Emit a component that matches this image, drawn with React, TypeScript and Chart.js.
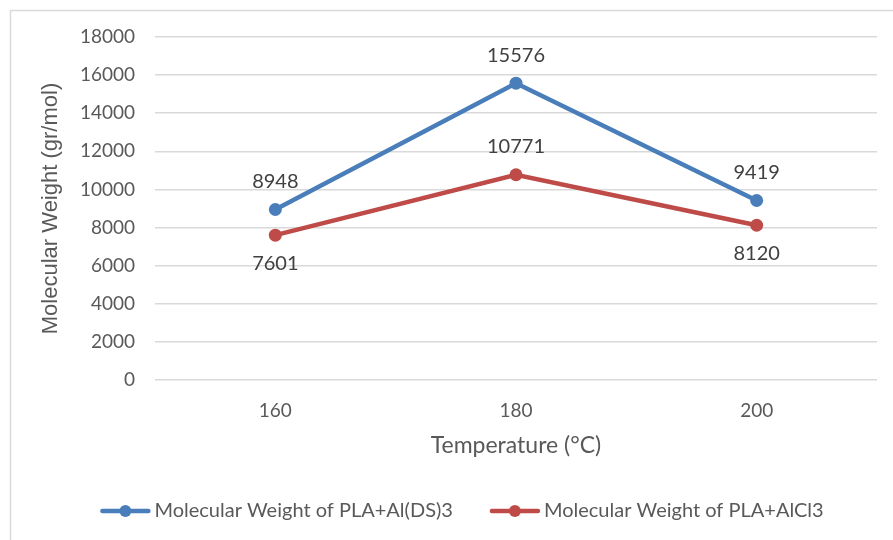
import React, { useEffect, useRef } from "react";
import { Chart, registerables } from "chart.js";

Chart.register(...registerables);

const categories = ["160", "180", "200"];
const seriesNames = ["Molecular Weight of PLA+Al(DS)3", "Molecular Weight of PLA+AlCl3"];
const alDs3Values = [8948, 15576, 9419];
const alCl3Values = [7601, 10771, 8120];
const colors = ["#4A7EBB", "#BE4B48"];
// label placement: 1 = above, -1 = below
const alDs3LabelPos = [1, 1, 1];
const alCl3LabelPos = [-1, 1, -1];
const yTicks = [0, 2000, 4000, 6000, 8000, 10000, 12000, 14000, 16000, 18000];

const FONT = "Lato, 'Open Sans', sans-serif";

const dataLabelPlugin = {
  id: "dataLabels",
  afterDatasetsDraw(chart: any) {
    const ctx = chart.ctx;
    const positions = [alDs3LabelPos, alCl3LabelPos];
    ctx.save();
    ctx.font = `20px ${FONT}`;
    ctx.fillStyle = "#404040";
    ctx.textAlign = "center";
    ctx.textBaseline = "middle";
    chart.data.datasets.forEach((ds: any, di: number) => {
      const meta = chart.getDatasetMeta(di);
      meta.data.forEach((pt: any, i: number) => {
        const dir = positions[di][i];
        ctx.fillText(String(ds.data[i]), pt.x, pt.y - dir * 28);
      });
    });
    ctx.restore();
  },
};

const legendPlugin = {
  id: "customLegend",
  afterDraw(chart: any) {
    const ctx = chart.ctx;
    ctx.save();
    ctx.font = `20px ${FONT}`;
    const lineW = 50;
    const gapText = 4;
    const gapItem = 37;
    const widths = seriesNames.map((n) => ctx.measureText(n).width);
    const total = widths.reduce((a, w) => a + lineW + gapText + w, 0) + gapItem * (seriesNames.length - 1);
    let x = 462 - total / 2;
    const y = 511;
    seriesNames.forEach((name, i) => {
      ctx.strokeStyle = colors[i];
      ctx.lineWidth = 4.5;
      ctx.lineCap = "round";
      ctx.beginPath();
      ctx.moveTo(x + 2, y);
      ctx.lineTo(x + lineW - 2, y);
      ctx.stroke();
      ctx.fillStyle = colors[i];
      ctx.beginPath();
      ctx.arc(x + lineW / 2, y, 6, 0, Math.PI * 2);
      ctx.fill();
      ctx.fillStyle = "#595959";
      ctx.textAlign = "left";
      ctx.textBaseline = "middle";
      ctx.fillText(name, x + lineW + gapText, y);
      x += lineW + gapText + widths[i] + gapItem;
    });
    ctx.restore();
  },
};

const borderPlugin = {
  id: "frame",
  beforeDraw(chart: any) {
    const ctx = chart.ctx;
    ctx.save();
    ctx.fillStyle = "#ffffff";
    ctx.fillRect(0, 0, chart.width, chart.height);
    ctx.strokeStyle = "#D9D9D9";
    ctx.lineWidth = 1.5;
    ctx.beginPath();
    ctx.moveTo(10.5, chart.height);
    ctx.lineTo(10.5, 10.5);
    ctx.lineTo(chart.width, 10.5);
    ctx.stroke();
    ctx.restore();
  },
};

export default function App() {
  const ref = useRef<HTMLCanvasElement>(null);
  useEffect(() => {
    document.body.style.margin = "0";
    const chart = new Chart(ref.current!, {
      type: "line",
      data: {
        labels: categories,
        datasets: [
          {
            label: seriesNames[0],
            data: alDs3Values,
            borderColor: colors[0],
            backgroundColor: colors[0],
            borderWidth: 4.5,
            pointRadius: 6.5,
            pointHoverRadius: 6.5,
            pointBorderWidth: 0,
            tension: 0,
          },
          {
            label: seriesNames[1],
            data: alCl3Values,
            borderColor: colors[1],
            backgroundColor: colors[1],
            borderWidth: 4.5,
            pointRadius: 6.5,
            pointHoverRadius: 6.5,
            pointBorderWidth: 0,
            tension: 0,
          },
        ],
      },
      options: {
        animation: false,
        responsive: false,
        layout: { padding: { top: 37, left: 10, right: 16, bottom: 60 } },
        plugins: {
          legend: { display: false },
          tooltip: { enabled: false },
        },
        scales: {
          x: {
            offset: true,
            grid: { display: false, drawTicks: false },
            border: { display: false },
            ticks: { color: "#595959", font: { family: FONT, size: 19 }, padding: 19 },
            title: {
              display: true,
              text: "Temperature (°C)",
              color: "#595959",
              font: { family: FONT, size: 23 },
              padding: { top: 0, bottom: 21 },
            },
            afterFit: (s: any) => {
              s.height = 100;
            },
          },
          y: {
            min: 0,
            max: 18000,
            afterBuildTicks: (s: any) => {
              s.ticks = yTicks.map((v) => ({ value: v }));
            },
            grid: { color: "#D9D9D9", lineWidth: 1.5, drawTicks: false },
            border: { display: false },
            ticks: {
              color: "#595959",
              font: { family: FONT, size: 19 },
              padding: 20,
              callback: (v: any) => String(v),
            },
            title: {
              display: true,
              text: "Molecular Weight (gr/mol)",
              color: "#595959",
              font: { family: "'Liberation Sans', Arial, sans-serif", size: 22 },
              padding: { top: 28 },
            },
            afterFit: (s: any) => {
              s.width = 145;
            },
          },
        },
      },
      plugins: [borderPlugin, dataLabelPlugin, legendPlugin],
    });
    return () => chart.destroy();
  }, []);
  return (
    <div style={{ position: "absolute", left: 0, top: 0, width: 893, height: 540 }}>
      <canvas ref={ref} width={893} height={540} />
    </div>
  );
}
